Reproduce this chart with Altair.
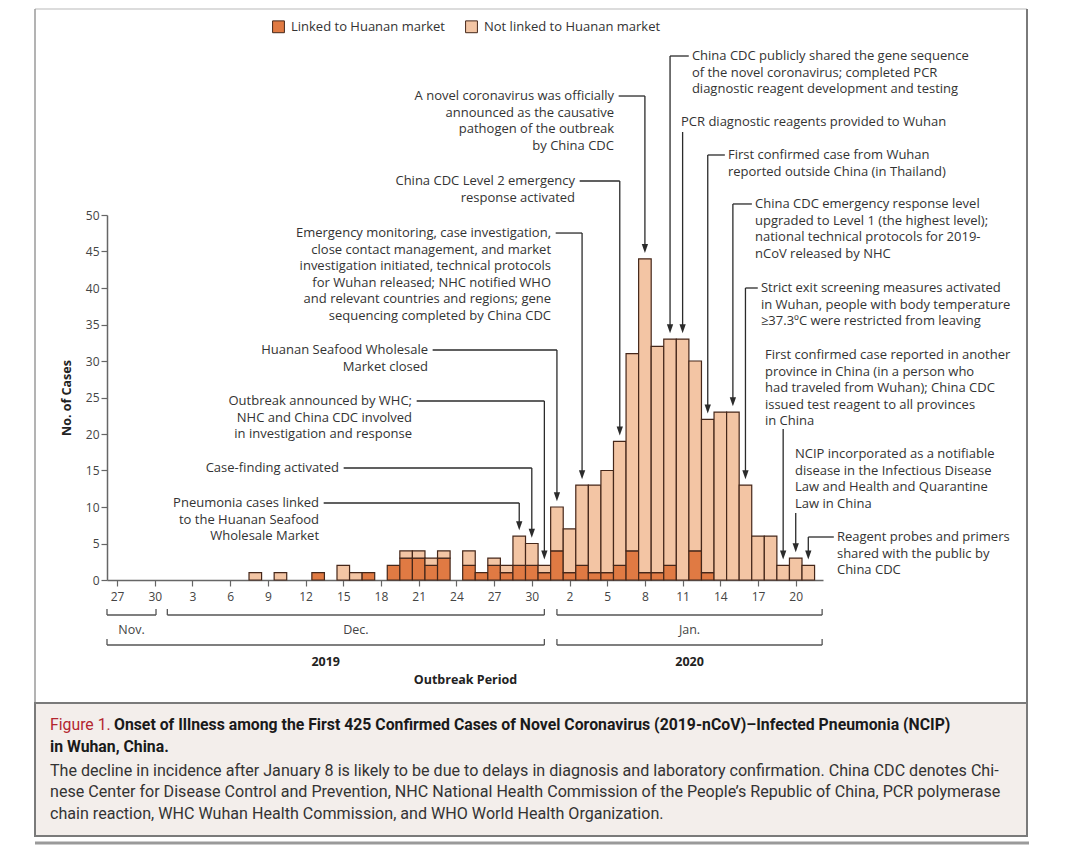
import json
import altair as alt
import pandas as pd

# ---------------- data ----------------
onset_dates = [
    "2019-12-08", "2019-12-10", "2019-12-13", "2019-12-15", "2019-12-16",
    "2019-12-17", "2019-12-19", "2019-12-20", "2019-12-21", "2019-12-22",
    "2019-12-23", "2019-12-25", "2019-12-26", "2019-12-27", "2019-12-28",
    "2019-12-29", "2019-12-30", "2019-12-31",
    "2020-01-01", "2020-01-02", "2020-01-03", "2020-01-04", "2020-01-05",
    "2020-01-06", "2020-01-07", "2020-01-08", "2020-01-09", "2020-01-10",
    "2020-01-11", "2020-01-12", "2020-01-13", "2020-01-14", "2020-01-15",
    "2020-01-16", "2020-01-17", "2020-01-18", "2020-01-19", "2020-01-20",
    "2020-01-21",
]
linked_cases = [0, 0, 1, 0, 0, 1, 2, 3, 3, 2, 3, 2, 1, 2, 1, 2, 2, 1,
                4, 1, 2, 1, 1, 2, 4, 1, 1, 2, 0, 4, 1, 0, 0, 0, 0, 0, 0, 0, 0]
not_linked_cases = [1, 1, 0, 2, 1, 0, 0, 1, 1, 1, 1, 2, 0, 1, 1, 4, 3, 1,
                    6, 6, 11, 12, 14, 17, 27, 43, 31, 31, 33, 26, 21, 23, 23, 13, 6, 6, 2, 3, 2]
series_names = ["Linked to Huanan market", "Not linked to Huanan market"]
series_colors = ["#e07a43", "#f3c5a4"]

tick_dates = ["2019-11-27", "2019-11-30", "2019-12-03", "2019-12-06", "2019-12-09",
              "2019-12-12", "2019-12-15", "2019-12-18", "2019-12-21", "2019-12-24",
              "2019-12-27", "2019-12-30", "2020-01-02", "2020-01-05", "2020-01-08",
              "2020-01-11", "2020-01-14", "2020-01-17", "2020-01-20"]
tick_labels = ["27", "30", "3", "6", "9", "12", "15", "18", "21", "24", "27", "30",
               "2", "5", "8", "11", "14", "17", "20"]
y_ticks = [0, 5, 10, 15, 20, 25, 30, 35, 40, 45, 50]

month_labels = ["Nov.", "Dec.", "Jan."]
year_labels = ["2019", "2020"]

event_dates = ["2019-12-29", "2019-12-30", "2019-12-31", "2020-01-01", "2020-01-03",
               "2020-01-06", "2020-01-08", "2020-01-10", "2020-01-11", "2020-01-13",
               "2020-01-15", "2020-01-16", "2020-01-19", "2020-01-20", "2020-01-21"]
event_texts = [
    "Pneumonia cases linked\nto the Huanan Seafood\nWholesale Market",
    "Case-finding activated",
    "Outbreak announced by WHC;\nNHC and China CDC involved\nin investigation and response",
    "Huanan Seafood Wholesale\nMarket closed",
    "Emergency monitoring, case investigation,\nclose contact management, and market\ninvestigation initiated, technical protocols\nfor Wuhan released; NHC notified WHO\nand relevant countries and regions; gene\nsequencing completed by China CDC",
    "China CDC Level 2 emergency\nresponse activated",
    "A novel coronavirus was officially\nannounced as the causative\npathogen of the outbreak\nby China CDC",
    "China CDC publicly shared the gene sequence\nof the novel coronavirus; completed PCR\ndiagnostic reagent development and testing",
    "PCR diagnostic reagents provided to Wuhan",
    "First confirmed case from Wuhan\nreported outside China (in Thailand)",
    "China CDC emergency response level\nupgraded to Level 1 (the highest level);\nnational technical protocols for 2019-\nnCoV released by NHC",
    "Strict exit screening measures activated\nin Wuhan, people with body temperature\n≥37.3ºC were restricted from leaving",
    "First confirmed case reported in another\nprovince in China (in a person who\nhad traveled from Wuhan); China CDC\nissued test reagent to all provinces\nin China",
    "NCIP incorporated as a notifiable\ndisease in the Infectious Disease\nLaw and Health and Quarantine\nLaw in China",
    "Reagent probes and primers\nshared with the public by\nChina CDC",
]

caption_fig = "Figure 1."
caption_title = "Onset of Illness among the First 425 Confirmed Cases of Novel Coronavirus (2019-nCoV)–Infected Pneumonia (NCIP)"
caption_title2 = "in Wuhan, China."
caption_body = [
    "The decline in incidence after January 8 is likely to be due to delays in diagnosis and laboratory confirmation. China CDC denotes Chi-",
    "nese Center for Disease Control and Prevention, NHC National Health Commission of the People’s Republic of China, PCR polymerase",
    "chain reaction, WHC Wuhan Health Commission, and WHO World Health Organization.",
]

# ---------------- layout (label placement, in axis units) ----------------
# (label x in days from 1 Dec, label y in cases, align, connector, drop-line top)
event_layout = [
    (12.07, 10.55, "right", "elbow", None),
    (13.66, 15.34, "right", "elbow", None),
    (19.47, 24.52, "right", "elbow", None),
    (20.74, 31.51, "right", "elbow", None),
    (30.53, 47.53, "right", "elbow", None),
    (32.44, 54.66, "right", "elbow", None),
    (35.54, 66.30, "right", "elbow", None),
    (41.74, 71.78, "left", "elbow", None),
    (40.87, 62.74, "left", "drop", 61.37),
    (44.61, 58.22, "left", "elbow", None),
    (46.76, 51.51, "left", "elbow", None),
    (47.23, 40.00, "left", "elbow", None),
    (47.55, 30.82, "left", "drop", 20.68),
    (49.94, 17.26, "left", "drop", 9.18),
    (53.28, 5.89, "left", "elbow", None),
]
month_spans = [(-4.8, -0.9), (0, 30), (31, 52.1)]
year_spans = [(-4.8, 30), (31, 52.1)]

FONT = "Open Sans"
CAP_FONT = "Roboto"
INK = "#2b2b2b"
W, H = 716, 365

origin = pd.Timestamp("2019-12-01")


def day(d):
    return (pd.Timestamp(d) - origin).days


# bars
rows = []
totals = {}
for d, a, b in zip(onset_dates, linked_cases, not_linked_cases):
    i = day(d)
    totals[i] = a + b
    if a:
        rows.append(dict(x0=i - 0.5, x1=i + 0.5, y0=0, y1=a, series=series_names[0]))
    if b:
        rows.append(dict(x0=i - 0.5, x1=i + 0.5, y0=a, y1=a + b, series=series_names[1]))
bar_df = pd.DataFrame(rows)

tick_idx = [day(t) for t in tick_dates]
label_expr = f"{json.dumps(tick_labels)}[indexof({json.dumps(tick_idx)}, datum.value)]"

xscale = alt.Scale(domain=[-4.8, 52.17], nice=False, zero=False)
yscale = alt.Scale(domain=[0, 50], nice=False, zero=False)
X_AXIS = alt.Axis(values=tick_idx, labelExpr=label_expr, title="Outbreak Period",
                  grid=False, tickSize=6, labelPadding=5, titleY=99,
                  titleBaseline="middle", labelFlush=False, labelOverlap=False)
Y_AXIS = alt.Axis(values=y_ticks, title="No. of Cases", grid=False, tickSize=6,
                  labelPadding=2, titleX=-41, titleY=182.5, titleAngle=270,
                  titleBaseline="middle", titleAlign="center")


def X(f):
    return alt.X(f, scale=xscale, axis=X_AXIS, title="Outbreak Period")


def Y(f):
    return alt.Y(f, scale=yscale, axis=Y_AXIS, title="No. of Cases")


bars = alt.Chart(bar_df).mark_rect(stroke="#45271a", strokeWidth=1.2).encode(
    x=X("x0:Q"), x2="x1:Q", y=Y("y0:Q"), y2="y1:Q",
    color=alt.Color("series:N",
                    scale=alt.Scale(domain=series_names, range=series_colors),
                    legend=alt.Legend(orient="none", legendX=165, legendY=-195,
                                      direction="horizontal", title=None,
                                      symbolType="square", symbolSize=140,
                                      symbolStrokeColor="#45271a", symbolStrokeWidth=1,
                                      labelFont=FONT, labelFontSize=13, labelColor="#333",
                                      labelOffset=6, columnPadding=18, padding=0,
                                      labelLimit=400)),
)

# annotations
hl, vl, ar, tr, tl = [], [], [], [], []
for d, txt, (lx, ly, al, kind, top) in zip(event_dates, event_texts, event_layout):
    i = day(d)
    tip = totals[i] + 0.8
    head = tip + 0.62
    (tr if al == "right" else tl).append(dict(tx=lx, ty=ly, t=txt))
    if kind == "elbow":
        start = lx + 0.37 if al == "right" else lx - 0.25
        hl.append(dict(hx0=start, hx1=i, hy=ly))
        vl.append(dict(vx=i, vy0=ly, vy1=head))
    else:
        vl.append(dict(vx=i, vy0=top, vy1=head))
    ar.append(dict(ax=i, ay=head))

hlines = alt.Chart(pd.DataFrame(hl)).mark_rule(color=INK, strokeWidth=1.3).encode(
    x=X("hx0:Q"), x2="hx1:Q", y=Y("hy:Q"))
vlines = alt.Chart(pd.DataFrame(vl)).mark_rule(color=INK, strokeWidth=1.3).encode(
    x=X("vx:Q"), y=Y("vy0:Q"), y2="vy1:Q")
arrows = alt.Chart(pd.DataFrame(ar)).mark_point(
    shape="M-0.7,-1L0.7,-1L0,1Z", filled=True, size=81, color=INK, opacity=1).encode(
    x=X("ax:Q"), y=Y("ay:Q"))
text_r = alt.Chart(pd.DataFrame(tr)).mark_text(
    align="right", baseline="alphabetic", dy=4, font=FONT, fontSize=13,
    lineHeight=16.6, lineBreak="\n", color="#333").encode(
    x=X("tx:Q"), y=Y("ty:Q"), text="t:N")
text_l = alt.Chart(pd.DataFrame(tl)).mark_text(
    align="left", baseline="alphabetic", dy=4, font=FONT, fontSize=13,
    lineHeight=16.6, lineBreak="\n", color="#333").encode(
    x=X("tx:Q"), y=Y("ty:Q"), text="t:N")


# brackets below the axis
def bracket_layers(spans, labels, y_line, y_text, bold):
    df = pd.DataFrame(dict(b0=[s[0] for s in spans], b1=[s[1] for s in spans],
                           mid=[(s[0] + s[1]) / 2 for s in spans], lab=labels))
    ends = pd.DataFrame(dict(e=[s[0] for s in spans] + [s[1] for s in spans]))
    line = alt.Chart(df).mark_rule(color="#555", strokeWidth=1.3).encode(
        x=X("b0:Q"), x2="b1:Q", y=alt.value(y_line))
    tick = alt.Chart(ends).mark_rule(color="#555", strokeWidth=1.3).encode(
        x=X("e:Q"), y=alt.value(y_line - 6), y2=alt.value(y_line))
    lab = alt.Chart(df).mark_text(font=FONT, fontSize=12.5,
                                  fontWeight="bold" if bold else "normal",
                                  color="#222" if bold else "#444", baseline="middle").encode(
        x=X("mid:Q"), y=alt.value(y_text), text="lab:N")
    return [line, tick, lab]


month_layers = bracket_layers(month_spans, month_labels, 400, 415, False)
year_layers = bracket_layers(year_spans, year_labels, 430, 447, True)

# frame and caption
one = pd.DataFrame({"k": [0]})
cap_box = alt.Chart(one).mark_rect(fill="#f3eeeb", stroke="#7a7a7a", strokeWidth=2).encode(
    x=alt.value(-72), x2=alt.value(920), y=alt.value(488), y2=alt.value(621))
frame_l = alt.Chart(one).mark_rule(color="#9a9a9a", strokeWidth=1.5).encode(
    x=alt.value(-72), y=alt.value(-206), y2=alt.value(488))
frame_r = alt.Chart(one).mark_rule(color="#7a7a7a", strokeWidth=2).encode(
    x=alt.value(920), y=alt.value(-206), y2=alt.value(488))
frame_t = alt.Chart(one).mark_rule(color="#d0d0d0", strokeWidth=1.5).encode(
    x=alt.value(-72), x2=alt.value(920), y=alt.value(-206))
frame_b = alt.Chart(one).mark_rule(color="#9a9a9a", strokeWidth=3).encode(
    x=alt.value(-72), x2=alt.value(922), y=alt.value(628))


def px_text(text, x, y, **kw):
    return alt.Chart(pd.DataFrame({"t": [text]})).mark_text(
        align="left", baseline="middle", **kw).encode(
        x=alt.value(x), y=alt.value(y), text="t:N")


cap_layers = [
    px_text(caption_fig, -57, 510, font=CAP_FONT, fontSize=15.8, color="#b3262f"),
    px_text(caption_title, 7, 510, font=CAP_FONT, fontSize=15.8, fontWeight="bold", color="#1a1a1a"),
    px_text(caption_title2, -57, 532, font=CAP_FONT, fontSize=15.8, fontWeight="bold", color="#1a1a1a"),
]
for k, line in enumerate(caption_body):
    cap_layers.append(px_text(line, -57, [556, 577, 599][k], font=CAP_FONT, fontSize=16.1, color="#333"))

chart = alt.layer(
    frame_t, frame_l, frame_r, cap_box, frame_b,
    bars, hlines, vlines, arrows, text_r, text_l,
    *month_layers, *year_layers, *cap_layers,
).properties(
    width=W, height=H,
    padding={"left": 99, "top": 207, "right": 249, "bottom": 268},
    autosize=alt.AutoSizeParams(type="none"),
    background="white",
).configure_view(stroke="transparent").configure_axis(
    domainColor="#666", domainWidth=1.5, tickColor="#666", tickWidth=1.2,
    labelColor="#444", labelFont=FONT, labelFontSize=12,
    titleFont=FONT, titleFontWeight="bold", titleFontSize=12.5, titleColor="#222",
)

chart.save("out.html", embed_options={"renderer": "svg", "actions": False})
